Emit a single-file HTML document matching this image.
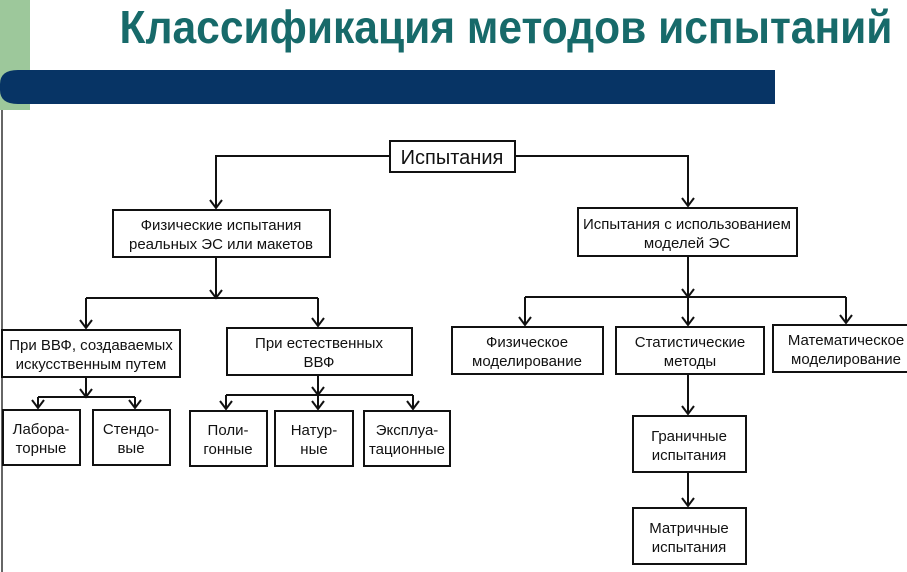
<!DOCTYPE html>
<html><head><meta charset="utf-8"><style>
html,body{margin:0;padding:0;background:#fff;}
body{width:907px;height:572px;overflow:hidden;position:relative;}
svg{position:absolute;left:0;top:0;}
</style></head><body>
<svg width="907" height="572" viewBox="0 0 907 572" xmlns="http://www.w3.org/2000/svg">
<rect x="0" y="0" width="30" height="110" fill="#9dc89b"/>
<line x1="2" y1="110" x2="2" y2="572" stroke="#333" stroke-width="1.5"/>
<path d="M18 70 H775 V104 H18 Q0 104 0 90 V84 Q0 70 18 70 Z" fill="#073465"/>
<text x="506" y="43" text-anchor="middle" font-family="Liberation Sans, sans-serif" font-weight="bold" font-size="46" fill="#176a6a" transform="translate(506 0) scale(0.925 1) translate(-506 0)">Классификация методов испытаний</text>
<g fill="none" stroke="#111" stroke-width="2">
<rect x="390" y="141" width="125" height="31"/>
<rect x="113" y="210" width="217" height="47"/>
<rect x="578" y="208" width="219" height="48"/>
<rect x="2" y="330" width="178" height="47"/>
<rect x="227" y="328" width="185" height="47"/>
<rect x="452" y="327" width="151" height="47"/>
<rect x="616" y="327" width="148" height="47"/>
<rect x="773" y="325" width="140" height="47"/>
<rect x="3" y="410" width="77" height="55"/>
<rect x="93" y="410" width="77" height="55"/>
<rect x="190" y="411" width="77" height="55"/>
<rect x="275" y="411" width="78" height="55"/>
<rect x="364" y="411" width="86" height="55"/>
<rect x="633" y="416" width="113" height="56"/>
<rect x="633" y="508" width="113" height="56"/>
<path d="M390 156 H216 V208 M515 156 H688 V206 M216 257 V298 M86 298 H318 M86 298 V328 M318 298 V326 M688 256 V297 M525 297 H846 M525 297 V325 M688 297 V325 M846 297 V323 M86 377 V397 M38 397 H135 M38 397 V408 M135 397 V408 M318 375 V395 M226 395 H413 M226 395 V409 M318 395 V409 M413 395 V409 M688 374 V414 M688 472 V506"/>
<path d="M210 200 L216 208 L222 200 M682 198 L688 206 L694 198 M210 290 L216 298 L222 290 M80 320 L86 328 L92 320 M312 318 L318 326 L324 318 M682 289 L688 297 L694 289 M519 317 L525 325 L531 317 M682 317 L688 325 L694 317 M840 315 L846 323 L852 315 M80 389 L86 397 L92 389 M32 400 L38 408 L44 400 M129 400 L135 408 L141 400 M312 387 L318 395 L324 387 M220 401 L226 409 L232 401 M312 401 L318 409 L324 401 M407 401 L413 409 L419 401 M682 406 L688 414 L694 406 M682 498 L688 506 L694 498"/>
</g>
<g font-family="Liberation Sans, sans-serif" font-size="15" fill="#111" text-anchor="middle">
<text x="452" y="164" font-size="20">Испытания</text>
<text x="221" y="230">Физические испытания</text>
<text x="221" y="249">реальных   ЭС или макетов</text>
<text x="687" y="229">Испытания с использованием</text>
<text x="687" y="248">моделей   ЭС</text>
<text x="91" y="350">При ВВФ, создаваемых</text>
<text x="91" y="369">искусственным путем</text>
<text x="319" y="348">При естественных</text>
<text x="319" y="367">ВВФ</text>
<text x="527" y="347">Физическое</text>
<text x="527" y="366">моделирование</text>
<text x="690" y="347">Статистические</text>
<text x="690" y="366">методы</text>
<text x="846" y="345">Математическое</text>
<text x="846" y="364">моделирование</text>
<text x="41" y="434">Лабора-</text>
<text x="41" y="453">торные</text>
<text x="131" y="434">Стендо-</text>
<text x="131" y="453">вые</text>
<text x="228" y="435">Поли-</text>
<text x="228" y="454">гонные</text>
<text x="314" y="435">Натур-</text>
<text x="314" y="454">ные</text>
<text x="407" y="435">Эксплуа-</text>
<text x="407" y="454">тационные</text>
<text x="689" y="441">Граничные</text>
<text x="689" y="460">испытания</text>
<text x="689" y="533">Матричные</text>
<text x="689" y="552">испытания</text>
</g>
</svg>
</body></html>
